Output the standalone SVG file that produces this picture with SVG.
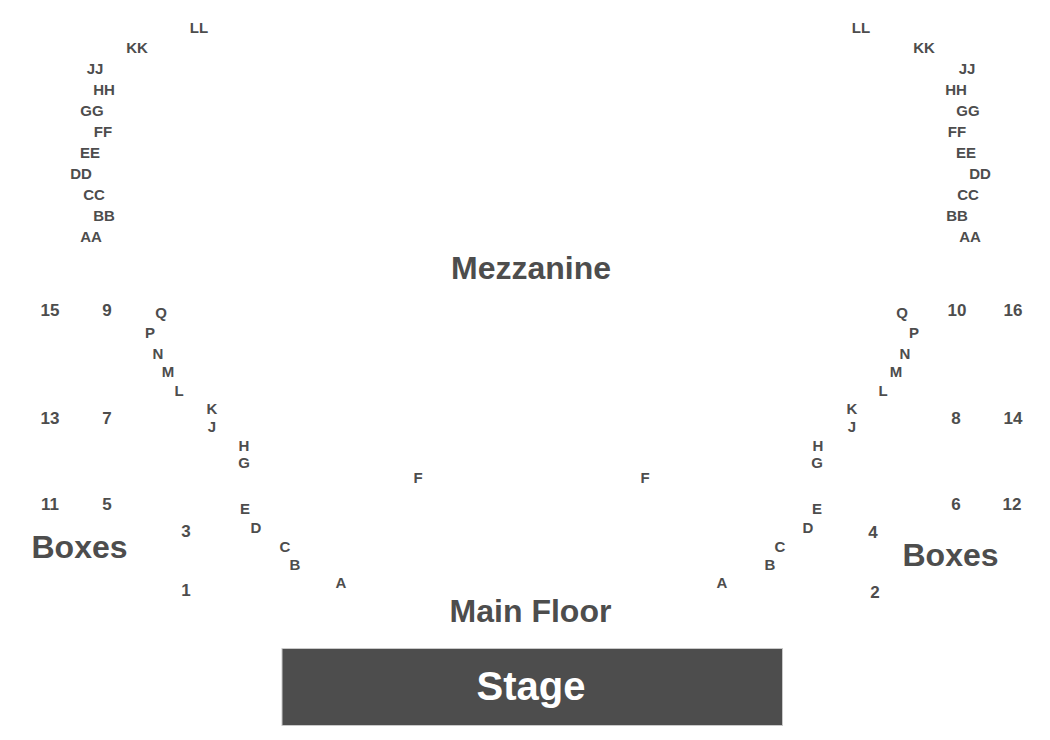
<svg xmlns="http://www.w3.org/2000/svg" width="1050" height="740" viewBox="0 0 1050 740">
<style>
text{font-family:"Liberation Sans",Arial,sans-serif;font-weight:bold;fill:#4d4d4d;text-anchor:middle}
.r{font-size:15px}
.n{font-size:17px}
.big{font-size:32px}
.stage{font-size:40px;fill:#ffffff}
</style>
<rect width="1050" height="740" fill="#ffffff"/>
<g id="mezzanine-left">
<text class="r" x="199" y="33">LL</text>
<text class="r" x="137" y="53">KK</text>
<text class="r" x="95" y="74">JJ</text>
<text class="r" x="104" y="95">HH</text>
<text class="r" x="92" y="116">GG</text>
<text class="r" x="103" y="137">FF</text>
<text class="r" x="90" y="158">EE</text>
<text class="r" x="81" y="179">DD</text>
<text class="r" x="94" y="200">CC</text>
<text class="r" x="104" y="221">BB</text>
<text class="r" x="91" y="242">AA</text>
</g>
<g id="mezzanine-right">
<text class="r" x="861" y="33">LL</text>
<text class="r" x="924" y="53">KK</text>
<text class="r" x="967" y="74">JJ</text>
<text class="r" x="956" y="95">HH</text>
<text class="r" x="968" y="116">GG</text>
<text class="r" x="957" y="137">FF</text>
<text class="r" x="966" y="158">EE</text>
<text class="r" x="980" y="179">DD</text>
<text class="r" x="968" y="200">CC</text>
<text class="r" x="957" y="221">BB</text>
<text class="r" x="970" y="242">AA</text>
</g>
<g id="mezzanine-label"><text class="big" x="531" y="279">Mezzanine</text></g>
<g id="floor-left">
<text class="r" x="161" y="318">Q</text>
<text class="r" x="150" y="338">P</text>
<text class="r" x="158" y="359">N</text>
<text class="r" x="168" y="377">M</text>
<text class="r" x="179" y="396">L</text>
<text class="r" x="212" y="414">K</text>
<text class="r" x="212" y="432">J</text>
<text class="r" x="244" y="451">H</text>
<text class="r" x="244" y="468">G</text>
<text class="r" x="418" y="483">F</text>
<text class="r" x="245" y="514">E</text>
<text class="r" x="256" y="533">D</text>
<text class="r" x="285" y="552">C</text>
<text class="r" x="295" y="570">B</text>
<text class="r" x="341" y="588">A</text>
</g>
<g id="floor-right">
<text class="r" x="902" y="318">Q</text>
<text class="r" x="914" y="338">P</text>
<text class="r" x="905" y="359">N</text>
<text class="r" x="896" y="377">M</text>
<text class="r" x="883" y="396">L</text>
<text class="r" x="852" y="414">K</text>
<text class="r" x="852" y="432">J</text>
<text class="r" x="818" y="451">H</text>
<text class="r" x="817" y="468">G</text>
<text class="r" x="645" y="483">F</text>
<text class="r" x="817" y="514">E</text>
<text class="r" x="808" y="533">D</text>
<text class="r" x="780" y="552">C</text>
<text class="r" x="770" y="570">B</text>
<text class="r" x="722" y="588">A</text>
</g>
<g id="boxes-left">
<text class="n" x="50" y="316">15</text>
<text class="n" x="107" y="316">9</text>
<text class="n" x="50" y="424">13</text>
<text class="n" x="107" y="424">7</text>
<text class="n" x="50" y="510">11</text>
<text class="n" x="107" y="510">5</text>
<text class="n" x="186" y="537">3</text>
<text class="n" x="186" y="596">1</text>
<text class="big" x="79.5" y="558">Boxes</text>
</g>
<g id="boxes-right">
<text class="n" x="957" y="316">10</text>
<text class="n" x="1013" y="316">16</text>
<text class="n" x="956" y="424">8</text>
<text class="n" x="1013" y="424">14</text>
<text class="n" x="956" y="510">6</text>
<text class="n" x="1012" y="510">12</text>
<text class="n" x="873" y="538">4</text>
<text class="n" x="875" y="598">2</text>
<text class="big" x="950.5" y="566">Boxes</text>
</g>
<g id="main-floor-label"><text class="big" x="530.5" y="622">Main Floor</text></g>
<g id="stage">
<rect x="282" y="648.5" width="500.5" height="77" fill="#4d4d4d" stroke="#c9c9c9" stroke-width="1"/>
<text class="stage" x="531" y="700">Stage</text>
</g>
</svg>
